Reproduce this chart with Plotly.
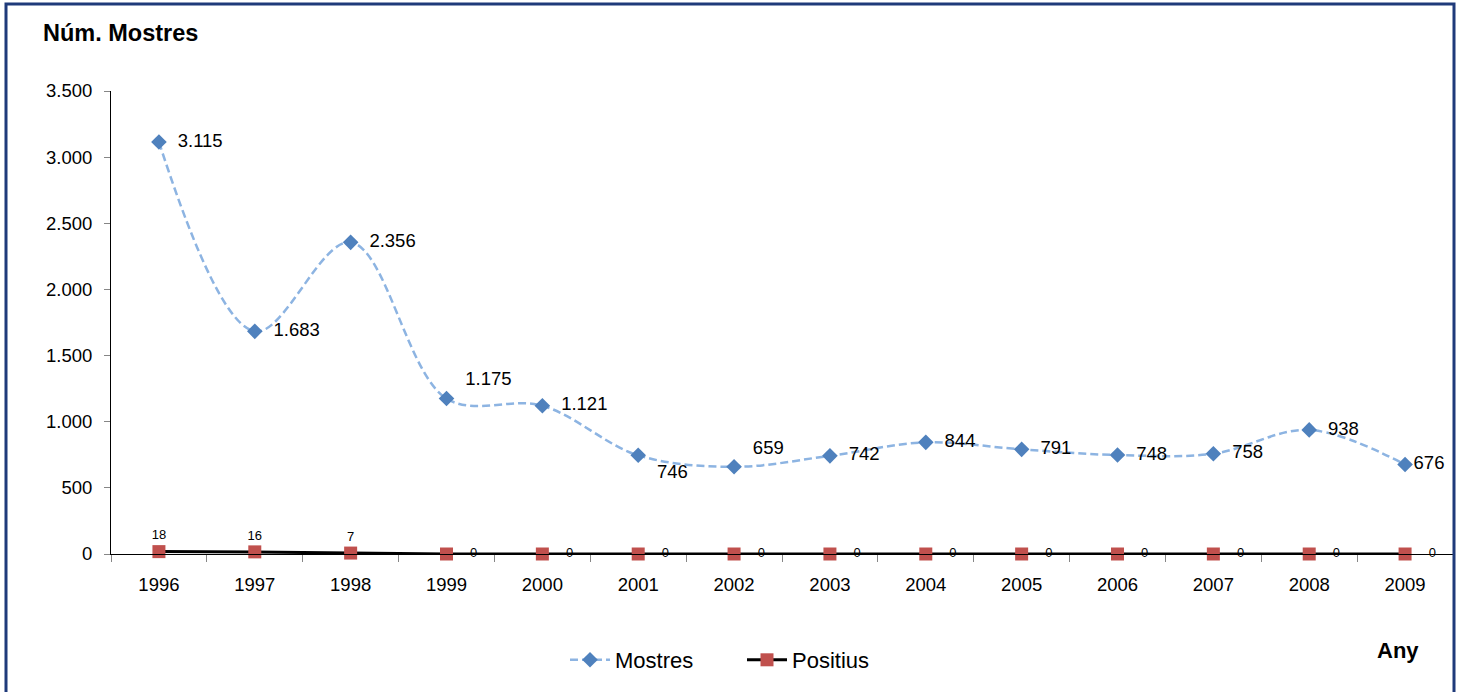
import plotly.graph_objects as go

years = ["1996", "1997", "1998", "1999", "2000", "2001", "2002", "2003",
         "2004", "2005", "2006", "2007", "2008", "2009"]
mostres = [3115, 1683, 2356, 1175, 1121, 746, 659, 742, 844, 791, 748, 758, 938, 676]
positius = [18, 16, 7, 0, 0, 0, 0, 0, 0, 0, 0, 0, 0, 0]
mostres_pos = ["middle right", "middle right", "middle right", "top right", "middle right",
               "bottom right", "top right", "middle right", "middle right", "middle right",
               "middle right", "middle right", "middle right", "middle right"]
mostres_pad = ["  "] * 13 + [""]
positius_pos = ["top center", "top center", "top center"] + ["middle right"] * 11
yticks = [0, 500, 1000, 1500, 2000, 2500, 3000, 3500]


def fmt(v):
    return f"{v:,}".replace(",", ".")


xs = list(range(len(years)))
FONT = "Liberation Sans, Arial, sans-serif"
W, H = 1463, 692
L, R, T, B = 111, 10, 91, 138
PW = W - L - R
PH = H - T - B


def px(x):
    return (x - L) / PW


def py(y):
    return (H - B - y) / PH


fig = go.Figure()
fig.add_trace(go.Scatter(
    x=xs, y=mostres, name="Mostres", mode="lines+markers+text",
    line=dict(color="#8DB4E2", width=2.5, dash="8px,4px", shape="spline", smoothing=1.0),
    marker=dict(symbol="diamond", size=12, color="#4F81BD"),
    text=[p + fmt(v) for p, v in zip(mostres_pad, mostres)], textposition=mostres_pos,
    textfont=dict(size=18.5, color="black", family=FONT),
    cliponaxis=False,
))
fig.add_trace(go.Scatter(
    x=xs, y=positius, name="Positius", mode="lines+markers+text",
    line=dict(color="black", width=3),
    marker=dict(symbol="square", size=13, color="#C0504D"),
    text=[("    " + str(v)) if v == 0 else str(v) for v in positius],
    textposition=positius_pos,
    textfont=dict(size=13, color="black", family=FONT),
    cliponaxis=False,
))

fig.update_layout(
    width=W, height=H,
    margin=dict(l=L, r=R, t=T, b=B),
    paper_bgcolor="white", plot_bgcolor="white",
    font=dict(family=FONT, size=18.5, color="black"),
    showlegend=True,
    legend=dict(orientation="h", x=px(742), xanchor="center", y=py(660), yanchor="middle",
                font=dict(size=22, family=FONT), itemwidth=40,
                entrywidth=122, entrywidthmode="pixels"),
    xaxis=dict(range=[-0.5, 13.5], tickvals=xs, ticktext=years, showgrid=False,
               zeroline=False, showline=True, linecolor="black", linewidth=1,
               ticks="", tickfont=dict(size=18.5), ticklabelstandoff=14,
               minor=dict(tickvals=[i - 0.5 for i in range(15)], ticks="outside",
                          ticklen=7, tickcolor="#868686", tickwidth=1)),
    yaxis=dict(range=[0, 3500], tickvals=yticks, ticktext=[fmt(v) for v in yticks],
               showgrid=False, zeroline=False, showline=True, linecolor="black",
               linewidth=1, ticks="outside", ticklen=6, tickcolor="#868686",
               tickfont=dict(size=18.5), ticklabelstandoff=8),
    annotations=[
        dict(text="<b>Núm. Mostres</b>", xref="paper", yref="paper",
             x=px(41), y=py(33), xanchor="left", yanchor="middle",
             showarrow=False, font=dict(size=23.5, family=FONT)),
        dict(text="<b>Any</b>", xref="paper", yref="paper",
             x=px(1421), y=py(650), xanchor="right", yanchor="middle",
             showarrow=False, font=dict(size=22, family=FONT)),
    ],
    shapes=[
        dict(type="rect", xref="paper", yref="paper",
             x0=px(6), x1=px(1454), y0=py(700), y1=py(4),
             line=dict(color="#1F3A7A", width=3)),
    ],
)

fig.write_html("out.html", config={"displayModeBar": False},
               post_script="document.body.style.margin='0';")
